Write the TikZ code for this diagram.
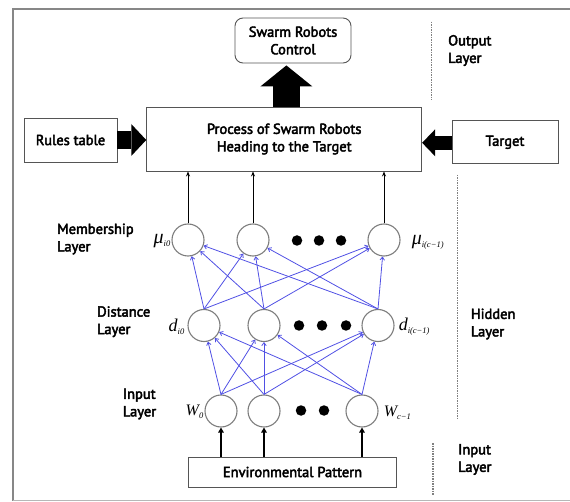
\documentclass[tikz,border=0pt]{standalone}
\usepackage{fontspec}
\setmainfont{PT Sans}
\newfontfamily\tmsfont{Liberation Serif}
\newfontfamily\lblfamily{PT Sans}[FakeBold=3]
\usetikzlibrary{arrows.meta,calc}
\definecolor{netblue}{RGB}{80,80,228}
\definecolor{framegray}{RGB}{135,135,135}
\definecolor{boxgray}{RGB}{85,85,85}
\definecolor{circgray}{RGB}{125,125,125}
\newcommand\lblfont{\lblfamily\fontsize{14.5}{17.5}\selectfont}
\newcommand\mathlab[3]{{\tmsfont\itshape\fontsize{#3}{#3}\selectfont #1\raisebox{-3pt}{\fontsize{8.5}{8.5}\selectfont #2}}}
\begin{document}
\begin{tikzpicture}[x=1pt,y=-1pt,
  box/.style={draw=boxgray,line width=0.9pt,inner sep=0pt,align=center,font=\lblfont},
  neuron/.style={circle,draw=circgray,line width=1.1pt,minimum size=32pt,inner sep=0pt},
  bigdot/.style={circle,fill=black,minimum size=10.5pt,inner sep=0pt},
  layertext/.style={anchor=west,align=left,font=\lblfont,inner sep=0pt},
  mlabel/.style={inner sep=1pt},
  blueedge/.style={draw=netblue,line width=0.8pt,-{Straight Barb[length=3pt,width=4.5pt]}},
  feedup/.style={draw=black,line width=0.9pt,-{Stealth[length=5pt,width=4pt]}},
  envarrow/.style={draw=black,line width=1.8pt,-{Triangle[length=5pt,width=5.5pt]}},
  sep/.style={draw=gray,line width=1.2pt,dash pattern=on 1.5pt off 1pt}
]
\useasboundingbox (0,0) rectangle (570,502);
% frame
\draw[framegray,line width=2pt] (571,9.3) -- (12.7,9.3) -- (12.7,500.5);
\draw[framegray!60,line width=1.6pt] (12.7,500.5) -- (571,500.5);

% top boxes
\node[box,rounded corners=8pt,minimum width=116pt,minimum height=45pt] (ctrl) at (293,40.5) {Swarm Robots\\Control};
\node[box,minimum width=275pt,minimum height=64pt] (proc) at (284.2,139) {Process of Swarm Robots\\Heading to the Target};
\node[box,minimum width=93pt,minimum height=44pt] (rules) at (70.5,140) {Rules table};
\node[box,minimum width=106pt,minimum height=43pt] (target) at (505,142.3) {Target};
\node[box,minimum width=208pt,minimum height=30pt] (env) at (292.5,472) {Environmental Pattern};

% big arrows
\draw[line width=27pt,-{Triangle[length=21pt,width=52pt,line width=0pt]}] ([xshift=2.2pt]proc.north) -- ([xshift=-6.6pt,yshift=-2pt]ctrl.south);
\draw[line width=18pt,-{Triangle[length=15pt,width=32pt,line width=0pt]}] (rules.east) -- (rules.east -| proc.west);
\draw[line width=14pt,-{Triangle[length=13pt,width=27pt,line width=0pt]}] ([yshift=-0.5pt]target.west) -- ([yshift=-0.5pt]target.west -| proc.east);

% neurons
\node[neuron] (m1) at (188,240) {};
\node[neuron] (m2) at (253,240) {};
\node[neuron] (m3) at (384,240) {};
\node[neuron] (d1) at (204,325.5) {};
\node[neuron] (d2) at (264,325.5) {};
\node[neuron] (d3) at (378,325.5) {};
\node[neuron] (w1) at (221,411) {};
\node[neuron] (w2) at (264,411) {};
\node[neuron] (w3) at (362,411) {};

% ellipsis dots
\node[bigdot] (ma) at (297,240.5) {};
\node[bigdot] (mb) at (319,240.5) {};
\node[bigdot] (mc) at (341,240.5) {};
\node[bigdot] (da) at (299,325.5) {};
\node[bigdot] (db) at (322,325.5) {};
\node[bigdot] (dc) at (346,325.5) {};
\node[bigdot] (wa) at (301,410.5) {};
\node[bigdot] (wb) at (324,410.5) {};

% blue connections
\foreach \a in {d1,d2,d3}{\foreach \b in {m1,m2,m3}{\draw[blueedge] (\a.north) -- (\b);}}
\foreach \a in {w1,w2,w3}{\foreach \b in {d1,d2,d3}{\draw[blueedge] (\a.north) -- (\b);}}

% membership to process
\foreach \a in {m1,m2,m3}{\draw[feedup] (\a.north) -- (\a.north |- proc.south);}
% environment to inputs
\foreach \a in {w1,w2,w3}{\draw[envarrow] (env.north -| \a) -- (\a.south);}

% neuron labels
\node[mlabel,anchor=east] (lm1) at ([yshift=-1pt]m1.west) {\mathlab{μ}{i0}{20}};
\node[mlabel,anchor=west] (lm3) at ([xshift=10pt,yshift=-2pt]m3.east) {\mathlab{μ}{i(c−1)}{20}};
\node[mlabel,anchor=east] (ld1) at ([xshift=-2pt,yshift=-1pt]d1.west) {\mathlab{d}{i0}{18}};
\node[mlabel,anchor=west] (ld3) at ([xshift=3pt,yshift=-1pt]d3.east) {\mathlab{d}{i(c−1)}{18}};
\node[mlabel,anchor=east] (lw1) at ([xshift=0pt,yshift=-1pt]w1.west) {\mathlab{W}{0}{16}};
\node[mlabel,anchor=west] (lw3) at ([xshift=4pt,yshift=-2pt]w3.east) {\mathlab{W}{c−1}{16}};

% layer texts
\node[layertext] (tmem) at (57,239) {Membership\\Layer};
\node[layertext] (tdist) at (97,321.7) {Distance\\Layer};
\node[layertext] (tinl) at (122.7,404) {Input\\Layer};
\node[layertext] (tout) at (448,50.5) {Output\\Layer};
\node[layertext] (thid) at (470.7,324) {Hidden\\Layer};
\node[layertext] (tinr) at (458,459.5) {Input\\Layer};

% separators
\draw[sep] (431.7,21.7) -- (431.7,100);
\draw[sep] (457.5,175) -- (457.5,420);
\draw[sep] (433,443) -- (433,495);
\end{tikzpicture}
\end{document}
